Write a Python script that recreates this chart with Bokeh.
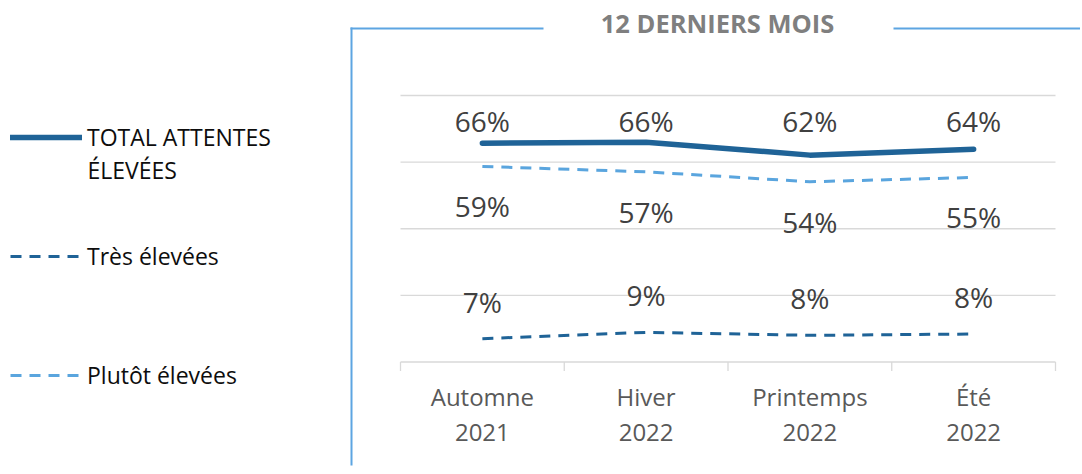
from bokeh.plotting import figure
from bokeh.models import (ColumnDataSource, Range1d, LabelSet, Label,
                          Legend, LegendItem, BoxAnnotation)
from bokeh.core.properties import value
from bokeh.embed import file_html
from bokeh.resources import INLINE
from math import pi

# ---------------- data ----------------
categories = ["Automne\n2021", "Hiver\n2022", "Printemps\n2022", "Été\n2022"]
total = [65.7, 66.0, 62.1, 63.9]      # TOTAL ATTENTES ÉLEVÉES
tres = [7.0, 8.9, 8.0, 8.4]           # Très élevées
plutot = [58.7, 57.1, 54.1, 55.4]     # Plutôt élevées
grid_values = [0, 20, 40, 60, 80]
title_text = "12 DERNIERS MOIS"
legend_total = ["TOTAL ATTENTES", "ÉLEVÉES"]
legend_tres = "Très élevées"
legend_plutot = "Plutôt élevées"

# ---------------- styles / layout ----------------
DARK = "#1F6397"
LIGHT = "#5AA5DE"
FRAME = "#5DA5E2"
GRID = "#D9D9D9"
FONT = "Open Sans"
W, H = 1080, 472
PLOT_L, PLOT_R = 400.0, 1055.0      # pixel extent of the plotting area
PLOT_T, PLOT_B = 95.0, 361.5
Y_MAX = grid_values[-1]
n = len(categories)
xpx = (PLOT_R - PLOT_L) / n
ypx = (PLOT_B - PLOT_T) / Y_MAX
x_range = Range1d(-PLOT_L / xpx, (W - PLOT_L) / xpx)
y_range = Range1d(-(H - PLOT_B) / ypx, PLOT_B / ypx)

xs = [i + 0.5 for i in range(n)]
bounds = list(range(n + 1))

src = ColumnDataSource(dict(
    x=xs,
    total=total, tres=tres, plutot=plutot,
    total_lbl_y=[max(total)] * n,
    total_lbl=[f"{round(v)}%" for v in total],
    tres_lbl=[f"{round(v)}%" for v in tres],
    plutot_lbl=[f"{round(v)}%" for v in plutot],
    cat=categories,
))

p = figure(width=W, height=H, x_range=x_range, y_range=y_range,
           output_backend="svg", toolbar_location=None,
           x_axis_location=None, y_axis_location=None, min_border=0)
p.outline_line_color = None
p.background_fill_color = "white"
p.border_fill_color = "white"
p.grid.visible = False

# gridlines + axis line
p.segment(x0=bounds[0], x1=bounds[-1], y0=grid_values, y1=grid_values,
          line_color=GRID, line_width=1.3)
# tick marks between categories
p.ray(x=bounds, y=grid_values[0], length=9, length_units="screen", angle=-pi / 2,
      line_color=GRID, line_width=1.3)
# category labels
p.text(x="x", y=grid_values[0], text="cat", source=src, y_offset=52,
       text_align="center", text_baseline="middle", text_font=value(FONT),
       text_font_size="24px", text_color="#595959", text_line_height=1.07)

r_total = p.line("x", "total", source=src, line_color=DARK, line_width=5.5,
                 line_cap="round", line_join="round")
r_plutot = p.line("x", "plutot", source=src, line_color=LIGHT, line_width=3,
                  line_dash="11 8")
r_tres = p.line("x", "tres", source=src, line_color=DARK, line_width=3,
                line_dash="11 8")

lbl_kw = dict(source=src, x="x", text_align="center", text_baseline="middle",
              text_font=value(FONT), text_font_size="28px", text_color="#404040")
p.add_layout(LabelSet(y="total_lbl_y", text="total_lbl", y_offset=21, **lbl_kw))
p.add_layout(LabelSet(y="plutot", text="plutot_lbl", y_offset=-40, **lbl_kw))
p.add_layout(LabelSet(y="tres", text="tres_lbl", y_offset=37, **lbl_kw))

# title
p.add_layout(Label(x=717, y=H - 22, x_units="screen", y_units="screen", text=title_text,
                   text_align="center", text_baseline="middle", text_font=FONT,
                   text_font_size="25.5px", text_font_style="bold", text_color="#7F7F7F"))

# decorative frame lines (screen units)
for box in [dict(left=350, right=352, top=H - 27, bottom=H - 465),
            dict(left=350, right=543, top=H - 27, bottom=H - 29),
            dict(left=893, right=W, top=H - 27, bottom=H - 29)]:
    p.add_layout(BoxAnnotation(left_units="screen", right_units="screen",
                               top_units="screen", bottom_units="screen",
                               fill_color=FRAME, fill_alpha=1, line_alpha=0, **box))

leg_kw = dict(border_line_alpha=0, background_fill_alpha=0, padding=0, margin=0,
              glyph_width=72, glyph_height=30, label_height=30, label_standoff=5,
              label_text_font=FONT, label_text_font_size="23px",
              label_text_color="#0D0D0D")
p.add_layout(Legend(items=[LegendItem(label=legend_total[0], renderers=[r_total])],
                    location=(10, H - 153), **leg_kw))
p.add_layout(Legend(items=[LegendItem(label=legend_tres, renderers=[r_tres])],
                    location=(10, H - 272), **leg_kw))
p.add_layout(Legend(items=[LegendItem(label=legend_plutot, renderers=[r_plutot])],
                    location=(10, H - 391), **leg_kw))
p.add_layout(Label(x=87, y=H - 169, x_units="screen", y_units="screen", text=legend_total[1],
                   text_align="left", text_baseline="alphabetic", text_font=FONT,
                   text_font_size="23px", text_color="#0D0D0D"))

open("out.html", "w").write(file_html(p, INLINE))
